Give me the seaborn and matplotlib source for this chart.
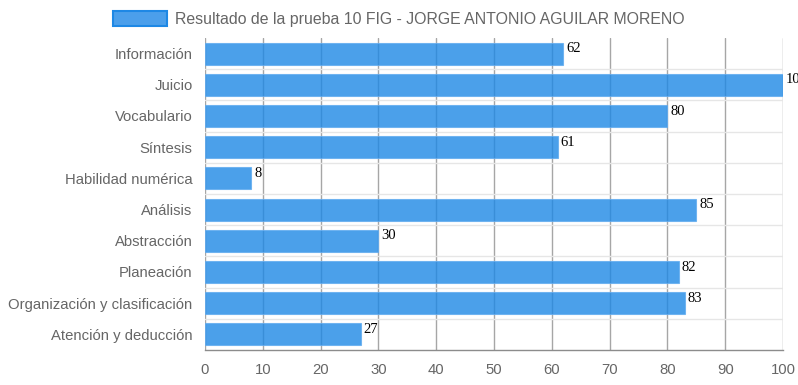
import numpy as np
import pandas as pd
import seaborn as sns
import matplotlib.pyplot as plt
from matplotlib.patches import Patch

categories = ["Información", "Juicio", "Vocabulario", "Síntesis", "Habilidad numérica",
              "Análisis", "Abstracción", "Planeación", "Organización y clasificación",
              "Atención y deducción"]
scores = [62, 100, 80, 61, 8, 85, 30, 82, 83, 27]
x_ticks = [0, 10, 20, 30, 40, 50, 60, 70, 80, 90, 100]
legend_label = "Resultado de la prueba 10 FIG - JORGE ANTONIO AGUILAR MORENO"

df = pd.DataFrame({"categoria": categories, "valor": scores})

sns.set_style("white")
plt.rcParams["font.family"] = ["Liberation Sans", "DejaVu Sans"]

fig = plt.figure(figsize=(7.98, 3.85), dpi=100)
ax = fig.add_axes([205 / 798, 1 - 350 / 385, 578 / 798, 312 / 385])

# vertical grid drawn under the semi-transparent bars
for v in x_ticks:
    ax.axvline(v, color="#a6a6a6", lw=1, zorder=0)

sns.barplot(data=df, x="valor", y="categoria", orient="h", color="#1e88e5",
            saturation=1, alpha=0.8, width=0.7, edgecolor="#62acf0", linewidth=0.8,
            ax=ax, zorder=2)

ax.set_xlim(0, 100)
ax.set_ylim(len(categories) - 0.5, -0.5)
ax.set_xticks(x_ticks)
ax.set_xlabel("")
ax.set_ylabel("")

# horizontal separators between categories
bounds = np.arange(len(categories) - 1) + 0.5
for b in bounds:
    ax.axhline(b, color="#e6e6e6", lw=1, zorder=1)
ax.set_yticks(np.arange(len(categories) + 1) - 0.5, minor=True)
ax.tick_params(axis="y", which="minor", length=14, color="#e6e6e6", width=1)
ax.tick_params(axis="y", which="major", length=0, pad=9, labelsize=10.7, labelcolor="#666666")
ax.tick_params(axis="x", which="major", length=5, color="#a6a6a6", width=1, pad=4,
               labelsize=10.7, labelcolor="#666666")

for s in ["top", "right", "left"]:
    ax.spines[s].set_visible(False)
ax.spines["bottom"].set_color("#8c8c8c")
ax.spines["bottom"].set_linewidth(1)

for i, v in enumerate(scores):
    ax.annotate(str(v), (v, i), xytext=(2, 3.5), textcoords="offset points",
                ha="left", va="center", fontsize=10.5, color="black",
                family=["Liberation Serif", "DejaVu Serif"], annotation_clip=False)

handle = Patch(facecolor="#4b9feb", edgecolor="#1e88e5", linewidth=1.5)
fig.legend([handle], [legend_label], loc="center", bbox_to_anchor=(0.5, 1 - 19 / 385),
           frameon=False, handlelength=3.4, handleheight=1.1, handletextpad=0.5,
           fontsize=11.4, labelcolor="#666666")

fig.savefig("out.png", dpi=100)
